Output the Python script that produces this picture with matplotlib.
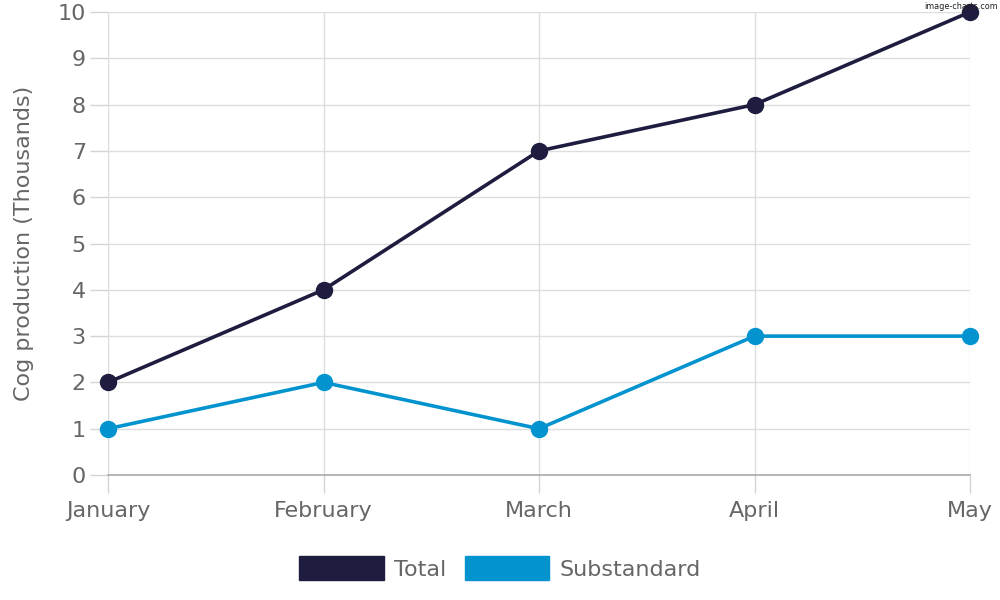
import matplotlib
matplotlib.use("Agg")
import matplotlib.pyplot as plt
import matplotlib.patches as mpatches

plt.rcParams["font.family"] = ["DejaVu Sans"]

months = ["January", "February", "March", "April", "May"]
total = [2, 4, 7, 8, 10]
substandard = [1, 2, 1, 3, 3]

C_TOTAL = "#1e1d40"
C_SUB = "#0393cf"
TXT = "#666666"
GRID = "#dddddd"

fig = plt.figure(figsize=(10, 6), dpi=100)
ax = fig.add_axes([0.108, 0.2083, 0.862, 0.7717])

x = list(range(len(months)))
ax.plot(x, total, color=C_TOTAL, lw=2.6, marker="o", ms=11.5, zorder=3, clip_on=False)
ax.plot(x, substandard, color=C_SUB, lw=2.6, marker="o", ms=11.5, zorder=3, clip_on=False)

ax.set_xlim(0, len(months) - 1)
ax.set_ylim(0, 10)
ax.set_xticks(x)
ax.set_xticklabels(months)
ax.set_yticks(range(0, 11))
ax.grid(True, color=GRID, lw=1)
ax.set_axisbelow(True)

for s in ["top", "right"]:
    ax.spines[s].set_visible(False)
ax.spines["left"].set_color(GRID)
ax.spines["bottom"].set_color("#aaaaaa")
ax.spines["bottom"].set_linewidth(1.2)

ax.tick_params(axis="both", direction="out", length=13, width=1, color="#d4d4d4",
               labelcolor=TXT, labelsize=16, pad=3, bottom=True, left=True)
ax.tick_params(axis="x", pad=6)
ax.set_ylabel("Cog production (Thousands)", color=TXT, fontsize=16)
ax.yaxis.set_label_coords(-0.086, 0.5)

handles = [mpatches.Patch(color=C_TOTAL, label="Total"),
           mpatches.Patch(color=C_SUB, label="Substandard")]
leg = fig.legend(handles=handles, loc="center", bbox_to_anchor=(0.5, 0.053),
                 ncol=2, frameon=False, fontsize=16, handlelength=3.8,
                 handleheight=1.25, columnspacing=0.85, handletextpad=0.45)
for t in leg.get_texts():
    t.set_color(TXT)

fig.text(0.998, 0.997, "image-charts.com", ha="right", va="top", fontsize=6.5,
         color="#222222", fontstretch="condensed")

fig.savefig("out.png", dpi=100)
